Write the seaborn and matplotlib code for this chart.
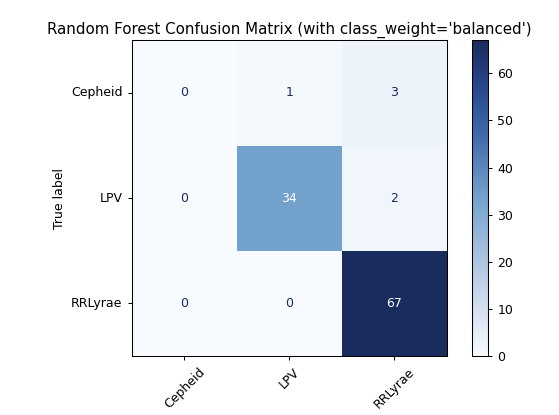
import numpy as np
import pandas as pd
import matplotlib
matplotlib.use('Agg')
import matplotlib.pyplot as plt
from matplotlib.colors import LinearSegmentedColormap
import seaborn as sns

# Confusion matrix values (rows = true label, columns = predicted label)
labels = ['Cepheid', 'LPV', 'RRLyrae']
row_cepheid = [0, 1, 3]
row_lpv = [0, 34, 2]
row_rrlyrae = [0, 0, 67]

cm = pd.DataFrame([row_cepheid, row_lpv, row_rrlyrae], index=labels, columns=labels)

# muted "Blues" as it looks in the reference picture
cmap = LinearSegmentedColormap.from_list('muted_blues', [
    (0.0, '#f7fbff'), (0.1, '#dfe8f4'), (0.2, '#c8d6ea'), (0.35, '#9fbcdb'),
    (0.5, '#74a3cc'), (0.7, '#3f6aab'), (0.85, '#29488e'), (1.0, '#1a2b5e')])

fig = plt.figure(figsize=(5.59, 4.15), dpi=100)
ax = fig.add_axes([0.236, 0.142, 0.5635, 0.761])
cax = fig.add_axes([0.8444, 0.142, 0.0286, 0.761])

sns.heatmap(cm, ax=ax, cbar_ax=cax, cmap=cmap, vmin=cm.values.min(), vmax=cm.values.max(),
            annot=True, fmt='d', annot_kws={'fontsize': 9}, square=False)

# text colour like sklearn: light text on dark cells, dark text on light cells
thresh = (cm.values.max() + cm.values.min()) / 2.0
vals = cm.values.flatten()
for txt, v in zip(ax.texts, vals):
    txt.set_color(cmap(0.0) if v > thresh else cmap(1.0))

ax.set_title("Random Forest Confusion Matrix (with class_weight='balanced')", fontsize=10.8, pad=5)
ax.set_ylabel('True label', fontsize=9)
ax.set_xlabel('')
plt.setp(ax.get_xticklabels(), rotation=45, ha='center', fontsize=9)
plt.setp(ax.get_yticklabels(), rotation=0, fontsize=9)
ax.tick_params(length=3.2, width=0.75)
for sp in ax.spines.values():
    sp.set_visible(True)
    sp.set_linewidth(0.75)

cbar = ax.collections[0].colorbar
cbar.set_ticks([0, 10, 20, 30, 40, 50, 60])
cbar.outline.set_linewidth(0.75)
cbar.ax.tick_params(labelsize=9, length=3.2, width=0.75)

fig.savefig('out.png', dpi=100)
